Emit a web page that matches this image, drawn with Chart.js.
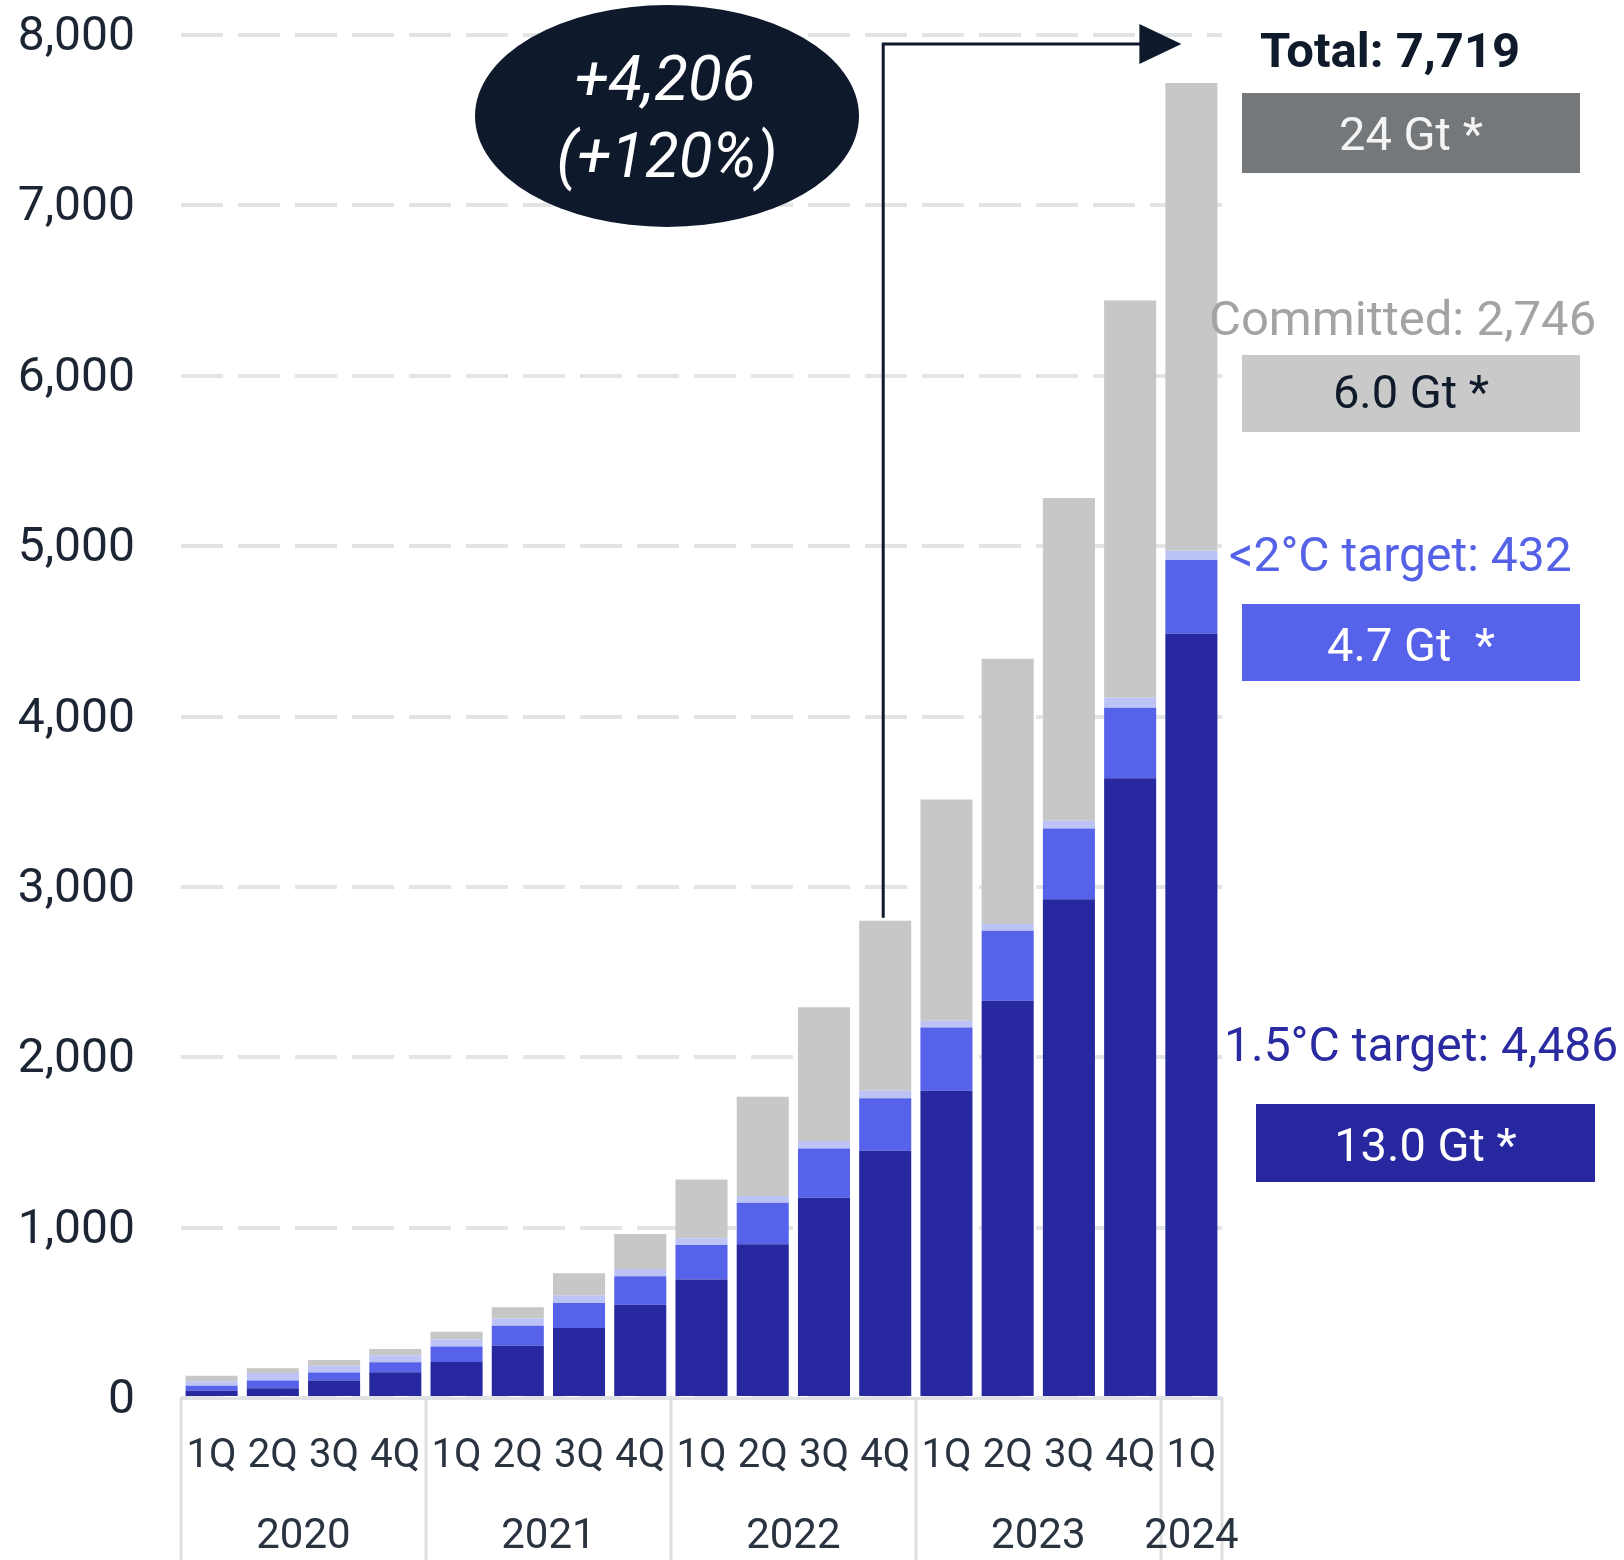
<!DOCTYPE html>
<html lang="en">
<head>
  <meta charset="UTF-8">
  <title>Cumulative Targets by Quarter</title>
  <script src="https://cdn.jsdelivr.net/npm/chart.js"></script>
  <style>
    html, body { margin: 0; padding: 0; background: #ffffff; }
  </style>
</head>
<body>
  <canvas id="targetsChart" width="1624" height="1560"></canvas>

  <script>
    // Quarters along the axis, grouped into years underneath
    const quarters = ['1Q', '2Q', '3Q', '4Q', '1Q', '2Q', '3Q', '4Q', '1Q', '2Q', '3Q', '4Q', '1Q', '2Q', '3Q', '4Q', '1Q'];
    const years = ['2020', '2021', '2022', '2023', '2024'];
    const quartersPerYear = [4, 4, 4, 4, 1];

    // Stacked series, bottom to top
    const target15 = [43, 57, 102, 151, 211, 307, 411, 548, 696, 902, 1176, 1451, 1803, 2332, 2928, 3637, 4486];
    const target2 = [29, 45, 47, 59, 92, 117, 147, 166, 202, 244, 289, 308, 372, 410, 415, 415, 432];
    const otherTarget = [27, 45, 41, 41, 41, 43, 45, 43, 39, 39, 43, 45, 39, 40, 45, 59, 55];
    const committed = [31, 27, 33, 37, 45, 66, 129, 205, 346, 583, 785, 997, 1299, 1557, 1894, 2330, 2746];

    const yTicks = [0, 1000, 2000, 3000, 4000, 5000, 6000, 7000, 8000];

    // Gigatonne boxes on the right
    const gtTotal = '24 Gt *';
    const gtCommitted = '6.0 Gt *';
    const gt2 = '4.7 Gt  *';
    const gt15 = '13.0 Gt *';

    const fmt = v => v.toLocaleString('en-US');
    const last = quarters.length - 1;
    const totals = quarters.map((q, i) => target15[i] + target2[i] + otherTarget[i] + committed[i]);
    const baseIdx = 12; // 1Q 2023
    const growth = totals[last] - totals[baseIdx];
    const growthPct = Math.round(growth / totals[baseIdx] * 100);

    const NAVY = '#0e1a2b';

    // Year separators and year labels under the quarter ticks
    const yearAxis = {
      id: 'yearAxis',
      afterDraw(chart) {
        const { ctx, chartArea } = chart;
        const step = (chartArea.right - chartArea.left) / quarters.length;
        ctx.save();
        ctx.strokeStyle = '#dedfe0';
        ctx.lineWidth = 3;
        let n = 0;
        const edges = [0];
        quartersPerYear.forEach(c => { n += c; edges.push(n); });
        edges.forEach(e => {
          const px = Math.round(chartArea.left + e * step);
          ctx.beginPath();
          ctx.moveTo(px, chartArea.bottom);
          ctx.lineTo(px, chart.height);
          ctx.stroke();
        });
        ctx.fillStyle = '#2a3340';
        ctx.font = '42px Roboto';
        ctx.textAlign = 'center';
        ctx.textBaseline = 'alphabetic';
        years.forEach((yr, i) => {
          const cx = chartArea.left + (edges[i] + edges[i + 1]) / 2 * step;
          ctx.fillText(yr, cx, chartArea.bottom + 150);
        });
        ctx.restore();
      }
    };

    // Callouts: growth bubble, arrow and the boxes on the right
    const callouts = {
      id: 'callouts',
      afterDraw(chart) {
        const { ctx, scales: { x, y } } = chart;
        ctx.save();

        // growth bubble
        ctx.fillStyle = NAVY;
        ctx.beginPath();
        ctx.ellipse(667, 116, 192, 111, 0, 0, Math.PI * 2);
        ctx.fill();
        ctx.fillStyle = '#ffffff';
        ctx.font = 'italic 62px Roboto';
        ctx.textAlign = 'center';
        ctx.textBaseline = 'alphabetic';
        ctx.fillText('+' + fmt(growth), 665, 100);
        ctx.fillText('(+' + growthPct + '%)', 667, 177);

        // arrow from 4Q 2022 up and across to the latest bar
        const ax = x.getPixelForValue(11) - 2;
        const ay0 = y.getPixelForValue(totals[11]) - 3;
        const ay1 = 44;
        const tipX = x.getPixelForValue(last) - 10;
        ctx.strokeStyle = NAVY;
        ctx.lineWidth = 3;
        ctx.beginPath();
        ctx.moveTo(ax, ay0);
        ctx.lineTo(ax, ay1);
        ctx.lineTo(tipX - 40, ay1);
        ctx.stroke();
        ctx.fillStyle = NAVY;
        ctx.beginPath();
        ctx.moveTo(tipX, ay1);
        ctx.lineTo(tipX - 42, ay1 - 20);
        ctx.lineTo(tipX - 42, ay1 + 20);
        ctx.closePath();
        ctx.fill();

        // right hand labels
        ctx.textAlign = 'left';
        ctx.fillStyle = '#0f1b2a';
        ctx.font = 'bold 49px Roboto';
        ctx.fillText('Total: ' + fmt(totals[last]), 1260, 67);

        ctx.font = '49px Roboto';
        ctx.fillStyle = '#a1a3a5';
        ctx.fillText('Committed: ' + fmt(committed[last]), 1209, 335);
        ctx.font = '48px Roboto';
        ctx.fillStyle = '#5562e8';
        ctx.fillText('<2°C target: ' + fmt(target2[last]), 1229, 571);
        ctx.fillStyle = '#2a2ba0';
        ctx.fillText('1.5°C target: ' + fmt(target15[last]), 1224, 1061);

        const box = (x0, y0, w, h, fill, text, color, base) => {
          ctx.fillStyle = fill;
          ctx.fillRect(x0, y0, w, h);
          ctx.fillStyle = color;
          ctx.textAlign = 'center';
          ctx.font = '47px Roboto';
          ctx.fillText(text, x0 + w / 2, base);
        };
        box(1242, 93, 338, 80, '#75787b', gtTotal, '#f4f4f4', 150);
        box(1242, 355, 338, 77, '#c8c9c8', gtCommitted, '#0f1b2a', 408);
        box(1242, 604, 338, 77, '#5662ea', gt2, '#ffffff', 661);
        box(1256, 1104, 339, 78, '#2727a0', gt15, '#ffffff', 1161);

        ctx.restore();
      }
    };

    Chart.defaults.font.family = 'Roboto';

    new Chart(document.getElementById('targetsChart'), {
      type: 'bar',
      data: {
        labels: quarters,
        datasets: [
          { label: '1.5°C target', data: target15, backgroundColor: '#2727a0' },
          { label: '<2°C target', data: target2, backgroundColor: '#5662ea' },
          { label: 'Other target', data: otherTarget, backgroundColor: '#bcc3f5' },
          { label: 'Committed', data: committed, backgroundColor: '#c6c7c6' }
        ]
      },
      options: {
        responsive: false,
        animation: false,
        devicePixelRatio: 1,
        layout: { padding: { left: 0, right: 402, top: 35, bottom: 0 } },
        datasets: { bar: { barPercentage: 0.85, categoryPercentage: 1.0 } },
        plugins: { legend: { display: false }, tooltip: { enabled: false } },
        scales: {
          x: {
            stacked: true,
            afterFit: s => { s.height = 162; },
            grid: { display: false },
            border: { display: true, color: '#e0e1e2', width: 3 },
            ticks: {
              color: '#2a3340',
              font: { size: 40 },
              padding: 27,
              maxRotation: 0,
              autoSkip: false
            }
          },
          y: {
            stacked: true,
            min: 0,
            max: 8000,
            afterFit: s => { s.width = 181; },
            afterBuildTicks: s => { s.ticks = yTicks.map(v => ({ value: v })); },
            // a transparent tick mark keeps the labels clear of the plot
            grid: { color: '#e3e4e5', lineWidth: 4, drawTicks: true, tickLength: 46, tickColor: 'rgba(0,0,0,0)' },
            border: { display: false, dash: [42, 15] },
            ticks: {
              color: '#1c2533',
              font: { size: 48 },
              padding: 0,
              labelOffset: 3,
              callback: v => fmt(v)
            }
          }
        }
      },
      plugins: [yearAxis, callouts]
    });
  </script>
</body>
</html>
